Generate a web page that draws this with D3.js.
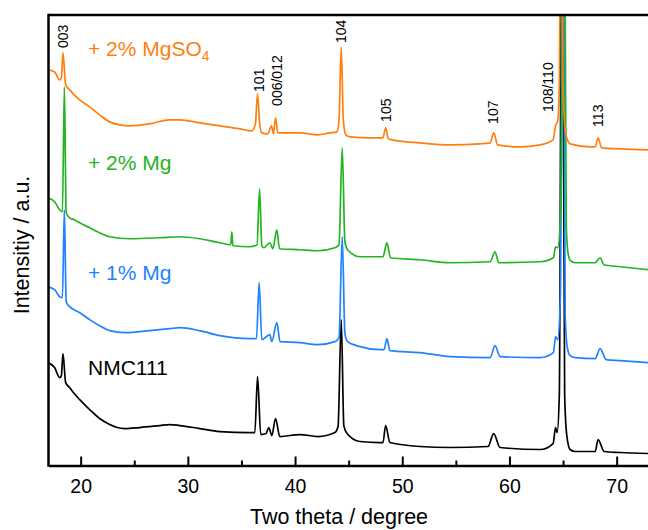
<!DOCTYPE html>
<html>
<head>
<meta charset="utf-8">
<script src="https://cdn.jsdelivr.net/npm/d3@7"></script>
<style>
  body { margin: 0; background: #fff; }
  svg { font-family: "Liberation Sans", Arial, sans-serif; }
</style>
</head>
<body>
<div id="chart"></div>
<script>
// XRD patterns, stacked, [two theta, intensity a.u.]
var nmc111 = [
  [16.92,103],[17.57,98],[18.04,88],[18.20,90],[18.35,112],[18.60,83],[18.97,78],[19.40,72],[19.91,66],[20.84,56],
  [21.77,47],[22.71,41],[23.40,38],[24.11,37],[25.51,38],[27.38,40],[28.30,41],[29.24,40],[31.11,37],[32.98,34],
  [35.78,33],[36.25,33],[36.50,89],[36.80,31],[37.30,32],[37.55,38],[37.83,30],[38.18,47],[38.58,29],
  [40.45,31],[42.13,29],[43.72,33],[44.01,39],[44.31,146],[44.55,40],[44.85,32],[46.05,24],[47.92,23],
  [48.20,23],[48.45,40],[48.85,23],[51.65,19],[54.45,18],[58.00,19],[58.53,32],[59.12,18],
  [62.86,16],[64.07,22],[64.30,38],[64.45,33],[64.65,70],[64.90,650],[65.15,70],[65.35,30],[65.66,16],[66.12,14],
  [67.99,14],[68.27,26],[68.83,14],[70.33,13],[72.94,12]
];
var mg1 = [
  [16.92,179],[17.57,176],[18.04,169],[18.30,168],[18.48,256],[18.65,164],[18.97,159],[19.40,156],[19.91,153],
  [20.84,146],[21.77,140],[22.71,135],[24.11,133],[26.44,135],[28.30,137],[29.24,138],[31.11,135],[32.98,130],
  [35.78,127],[36.40,127],[36.65,183],[36.90,126],[37.65,131],[37.83,124],[38.30,143],[38.60,124],
  [40.45,123],[42.13,121],[43.72,124],[44.10,128],[44.40,229],[44.65,132],[44.90,124],[46.05,119],[47.92,116],
  [48.30,116],[48.57,127],[48.85,115],[51.65,113],[54.45,109],[58.19,108],[58.66,120],[59.12,109],
  [62.86,108],[64.10,113],[64.30,129],[64.50,126],[64.75,170],[65.00,650],[65.20,150],[65.40,118],[65.66,110],[66.12,108],[67.99,107],
  [68.46,117],[69.02,106],[70.33,105],[72.94,103]
];
var mg2 = [
  [16.92,268],[17.57,264],[18.04,256],[18.30,254],[18.48,379],[18.65,253],[18.97,248],[19.40,246],[19.91,243],
  [20.84,238],[21.77,233],[22.71,229],[24.58,227],[27.38,228],[29.24,229],[31.11,227],[32.98,223],
  [34.00,221],[34.10,234],[34.20,220],[35.78,219],[36.45,221],[36.69,277],[36.90,220],[37.09,218],
  [37.65,223],[37.93,217],[38.30,236],[38.55,217],[40.45,216],[42.13,215],[43.72,218],[44.10,221],
  [44.40,318],[44.65,224],[44.90,216],[46.05,209],[48.20,209],[48.57,223],[48.90,208],[51.65,206],[54.45,203],
  [58.19,204],[58.66,214],[59.00,203],[62.86,204],[64.10,208],[64.30,219],[64.50,218],[64.80,260],[65.10,650],[65.30,240],[65.47,212],
  [65.70,205],[66.12,203],[67.99,203],[68.46,208],[68.80,201],[70.33,199],[72.94,196]
];
var mgso4 = [
  [16.92,396],[17.57,394],[18.04,386],[18.20,388],[18.35,413],[18.60,381],[18.97,376],[19.40,371],[19.91,366],[20.84,359],
  [21.77,351],[22.71,344],[23.64,341],[24.58,340],[26.44,342],[28.31,346],[29.24,346],[31.11,343],
  [32.98,340],[34.85,337],[35.97,335],[36.30,342],[36.50,372],[36.70,342],[36.90,333],[37.46,332],
  [37.80,340],[37.98,332],[38.18,348],[38.40,333],[40.45,333],[42.13,331],[43.25,333],[43.91,334],
  [44.10,346],[44.31,419],[44.50,346],[44.74,331],[45.12,329],[46.98,328],[48.20,328],[48.45,338],
  [48.70,327],[49.04,326],[51.65,323],[54.45,321],[57.25,322],[58.20,323],[58.53,333],[58.90,321],
  [60.99,319],[62.86,321],[64.07,326],[64.30,340],[64.50,345],[64.65,380],[64.80,650],[65.00,380],[65.20,336],
  [65.40,326],[65.66,322],[67.53,319],[68.00,319],[68.27,328],[68.60,318],[70.33,317],[72.94,316]
];

var seriesData = [nmc111, mg1, mg2, mgso4];
var seriesColors = ["#000000", "#1f82ff", "#22b422", "#ff7f0e"];

var peakNames = ["003", "101", "006/012", "104", "105", "107", "108/110", "113"];
var peakPos = [18.4, 36.6, 38.3, 44.3, 48.45, 58.5, 63.6, 68.3];
var peakLabelTop = [418, 374, 360, 423, 344, 342, 354, 339]; // a.u., lower end of label

var xTicks = [20, 30, 40, 50, 60, 70];
var xMinor = [25, 35, 45, 55, 65];

var width = 648, height = 530;
var margin = {top: 15, left: 48.5, bottom: 465.5};

var svg = d3.select("#chart")
  .append("svg")
    .attr("width", width)
    .attr("height", height);

var x = d3.scaleLinear().domain([17, 75]).range([margin.left, margin.left + 58 * 10.72]);
var y = d3.scaleLinear().domain([0, 451]).range([margin.bottom, margin.top]);

svg.append("clipPath")
    .attr("id", "plot-clip")
  .append("rect")
    .attr("x", margin.left)
    .attr("y", margin.top)
    .attr("width", width)
    .attr("height", margin.bottom - margin.top);

var line = d3.line()
  .curve(d3.curveMonotoneX)
  .x(function(d) { return x(d[0]); })
  .y(function(d) { return y(d[1]); });

var plot = svg.append("g").attr("clip-path", "url(#plot-clip)");

seriesData.forEach(function(s, i) {
  plot.append("path")
    .datum(s)
    .attr("fill", "none")
    .attr("stroke", seriesColors[i])
    .attr("stroke-width", 1.7)
    .attr("stroke-linejoin", "round")
    .attr("d", line);
});

// frame
svg.append("line")
  .attr("x1", margin.left).attr("x2", width)
  .attr("y1", margin.top).attr("y2", margin.top)
  .attr("stroke", "#000").attr("stroke-width", 2.5);
svg.append("line")
  .attr("x1", margin.left).attr("x2", margin.left)
  .attr("y1", margin.top - 1.25).attr("y2", margin.bottom + 1.25)
  .attr("stroke", "#000").attr("stroke-width", 2.5);

// x axis, ticks pointing inward
var xAxis = svg.append("g")
  .attr("transform", "translate(0," + margin.bottom + ")")
  .call(d3.axisBottom(x).tickValues(xTicks).tickSize(-9).tickSizeOuter(0).tickPadding(14));
xAxis.select(".domain").attr("stroke-width", 2.5);
xAxis.selectAll(".tick line").attr("stroke-width", 2);
xAxis.selectAll(".tick text")
  .style("font-size", "19.5px")
  .style("font-family", "Liberation Sans, Arial, sans-serif")
  .attr("fill", "#000");

svg.append("g")
  .attr("transform", "translate(0," + margin.bottom + ")")
  .call(d3.axisBottom(x).tickValues(xMinor).tickSize(-5).tickFormat(""))
  .call(function(g) { g.select(".domain").remove(); })
  .selectAll(".tick line").attr("stroke-width", 2);

svg.append("text")
  .attr("x", 339)
  .attr("y", 524)
  .style("text-anchor", "middle")
  .style("font-size", "21.5px")
  .text("Two theta / degree");

svg.append("text")
  .attr("transform", "translate(29,245) rotate(-90)")
  .style("text-anchor", "middle")
  .style("font-size", "21.5px")
  .text("Intensitiy / a.u.");

// series labels
var labels = svg.append("g").style("font-size", "21px");
labels.append("text").attr("x", 88).attr("y", 375).attr("fill", seriesColors[0]).text("NMC111");
labels.append("text").attr("x", 88).attr("y", 280).attr("fill", seriesColors[1]).text("+ 1% Mg");
labels.append("text").attr("x", 88).attr("y", 170).attr("fill", seriesColors[2]).text("+ 2% Mg");
var t4 = labels.append("text").attr("x", 88).attr("y", 56).attr("fill", seriesColors[3]);
t4.append("tspan").text("+ 2% MgSO");
t4.append("tspan").attr("dy", 5).style("font-size", "14px").text("4");

// peak labels
peakNames.forEach(function(name, i) {
  svg.append("text")
    .attr("transform", "translate(" + x(peakPos[i]) + "," + y(peakLabelTop[i]) + ") rotate(-90)")
    .attr("dy", "0.35em")
    .style("text-anchor", "start")
    .style("font-size", "14px")
    .text(name);
});
</script>
</body>
</html>
